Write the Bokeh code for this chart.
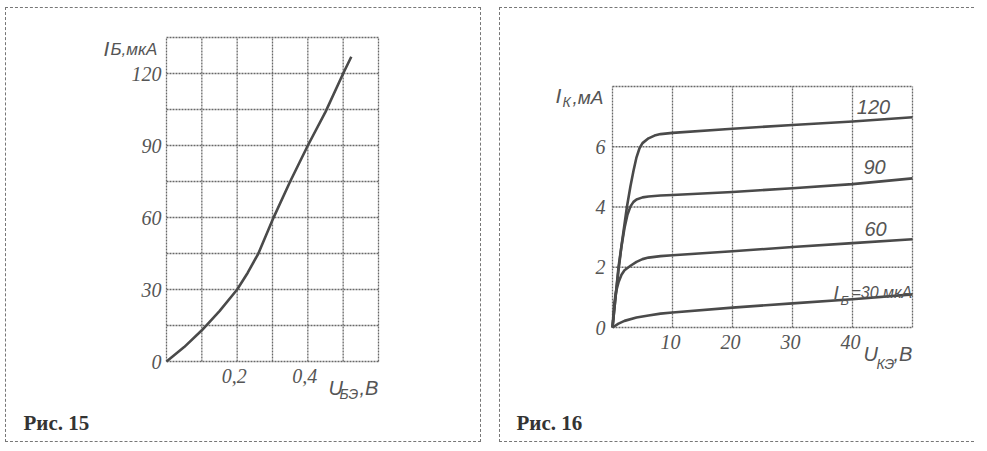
from bokeh.plotting import figure
from bokeh.models import Label, Range1d
from bokeh.layouts import row
from bokeh.embed import file_html
from bokeh.resources import INLINE

# ---------------- data: Рис. 15 (input characteristic) ----------------
u_be = [0.0, 0.05, 0.10, 0.15, 0.20, 0.23, 0.26, 0.30, 0.35, 0.40, 0.45, 0.50, 0.523]
i_b = [0, 6, 13, 21, 30, 37, 45, 59, 75, 90, 104, 120, 127]
fig15_xticks = [0.2, 0.4]
fig15_xlabels = ["0,2", "0,4"]
fig15_yticks = [0, 30, 60, 90, 120]
fig15_ylabels = ["0", "30", "60", "90", "120"]
fig15_xgrid = [0.0, 0.1, 0.2, 0.3, 0.4, 0.5, 0.6]
fig15_ygrid = [0, 15, 30, 45, 60, 75, 90, 105, 120, 135]

# ---------------- data: Рис. 16 (output characteristics) ----------------
u_ke_120 = [0, 1, 2.4, 3, 3.5, 4, 4.5, 5, 6, 7, 8, 10, 20, 30, 40, 50]
i_k_120 = [0, 2.0, 4.0, 4.7, 5.2, 5.65, 5.95, 6.12, 6.28, 6.37, 6.42, 6.46, 6.6, 6.72, 6.84, 6.98]
u_ke_90 = [0, 0.5, 1, 1.5, 2, 2.5, 3, 3.5, 4, 5, 6, 8, 10, 20, 30, 40, 50]
i_k_90 = [0, 1.0, 1.9, 2.7, 3.3, 3.75, 4.02, 4.17, 4.25, 4.32, 4.35, 4.38, 4.4, 4.5, 4.62, 4.76, 4.95]
u_ke_60 = [0, 0.3, 0.6, 1, 1.5, 2, 3, 4, 5, 6, 8, 10, 20, 30, 40, 50]
i_k_60 = [0, 0.8, 1.2, 1.5, 1.75, 1.9, 2.05, 2.18, 2.27, 2.32, 2.37, 2.4, 2.53, 2.67, 2.8, 2.93]
u_ke_30 = [0, 1, 2, 4, 6, 8, 10, 20, 30, 40, 50]
i_k_30 = [0, 0.13, 0.22, 0.33, 0.4, 0.46, 0.5, 0.66, 0.8, 0.94, 1.1]
fig16_xticks = [10, 20, 30, 40]
fig16_xlabels = ["10", "20", "30", "40"]
fig16_yticks = [0, 2, 4, 6]
fig16_ylabels = ["0", "2", "4", "6"]
fig16_xgrid = [0, 10, 20, 30, 40, 50]
fig16_ygrid = [0, 2, 4, 6, 8]

SANS = "Liberation Sans"
SERIF = "Liberation Serif"
TXT = "#555555"
LINE = "#4a4a4a"
GRID = "#686868"
BORDER = "1px dashed #777777"


class Panel:
    """A figure whose frame is the whole canvas; the plot box sits at given pixels."""

    def __init__(self, W, H, org, box, xr, yr):
        self.org = org
        l, r, t, b = box
        self.sx = (r - l) / (xr[1] - xr[0])
        self.sy = (b - t) / (yr[1] - yr[0])
        x0 = xr[0] - l / self.sx
        x1 = xr[1] + (W - r) / self.sx
        y0 = yr[0] - (H - b) / self.sy
        y1 = yr[1] + t / self.sy
        self.x0, self.y1 = x0, y1
        self.xr, self.yr = xr, yr
        self.p = figure(width=W, height=H, output_backend="svg", toolbar_location=None,
                        x_range=Range1d(x0, x1), y_range=Range1d(y0, y1),
                        x_axis_location=None, y_axis_location=None, min_border=0)
        p = self.p
        p.xgrid.visible = False
        p.ygrid.visible = False
        p.outline_line_color = None
        p.background_fill_color = "white"
        p.border_fill_color = "white"

    def at(self, px, py):
        # page pixel -> data coordinates
        cx, cy = px - self.org[0], py - self.org[1]
        return self.x0 + cx / self.sx, self.y1 - cy / self.sy

    def label(self, px, py, text, size, align="left", baseline="alphabetic",
              font=SANS, style="italic", color=TXT):
        x, y = self.at(px, py)
        self.p.add_layout(Label(x=x, y=y, text=text, text_font=font, text_font_style=style,
                                text_font_size=size, text_color=color, text_align=align,
                                text_baseline=baseline))

    def grid(self, xs, ys):
        n, m = len(xs), len(ys)
        self.p.segment(x0=xs, y0=[ys[0]] * n, x1=xs, y1=[ys[-1]] * n,
                       line_color=GRID, line_width=1.3, line_dash="2 1")
        self.p.segment(x0=[xs[0]] * m, y0=ys, x1=[xs[-1]] * m, y1=ys,
                       line_color=GRID, line_width=1.3, line_dash="2 1")

    def ticks(self, xt, xl, yt, yl, xoff, yoff):
        self.p.text(x=xt, y=[self.yr[0]] * len(xt), text=xl, x_offset=xoff[0], y_offset=xoff[1],
                    text_align="center", text_baseline="top", text_font_size="20px",
                    text_font_style="italic", text_color=TXT)
        self.p.text(x=[self.xr[0]] * len(yt), y=yt, text=yl, x_offset=yoff[0], y_offset=yoff[1],
                    text_align="right", text_baseline="middle", text_font_size="20px",
                    text_font_style="italic", text_color=TXT)
        for r in self.p.renderers[-2:]:
            r.glyph.text_font = SANS


# ---------------- Рис. 15 ----------------
A = Panel(476, 435, org=(6, 8), box=(160, 372, 29, 353), xr=(0, 0.6), yr=(0, 135))
A.grid(fig15_xgrid, fig15_ygrid)
A.ticks(fig15_xticks, fig15_xlabels, fig15_yticks, fig15_ylabels, (-3, 7), (-5, 0))
A.p.line(u_be, i_b, line_color=LINE, line_width=2.6, line_join="round")
A.label(103, 48, "I", "21px")
A.label(110, 49, "Б,мкА", "17px")
A.label(328, 387, "U", "20px")
A.label(339, 393, "БЭ", "14px")
A.label(359, 387, ",В", "20px")
A.label(23, 422, "Рис. 15", "21px", font=SERIF, style="bold", color="#333333")
A.p.styles = {"border": BORDER}
A.p.margin = (7, 0, 0, 5)

# ---------------- Рис. 16 ----------------
B = Panel(475, 435, org=(502, 8), box=(112, 412, 78, 319), xr=(0, 50), yr=(0, 8))
B.grid(fig16_xgrid, fig16_ygrid)
B.ticks(fig16_xticks, fig16_xlabels, fig16_yticks, fig16_ylabels, (-2, 7), (-7, 0))
for xs, ys in ((u_ke_120, i_k_120), (u_ke_90, i_k_90), (u_ke_60, i_k_60), (u_ke_30, i_k_30)):
    B.p.line(xs, ys, line_color=LINE, line_width=2.6, line_join="round")
B.label(557, 95, "I", "21px")
B.label(564, 101, "К", "14px")
B.label(574, 97, ",мА", "19px")
B.label(865, 353, "U", "20px")
B.label(878, 363, "КЭ", "14px")
B.label(895, 353, ",В", "20px")
B.label(875, 106, "120", "20px", align="center", baseline="middle")
B.label(876, 166, "90", "20px", align="center", baseline="middle")
B.label(877, 228, "60", "20px", align="center", baseline="middle")
B.label(835, 292, "I", "19px")
B.label(842, 300, "Б", "13px")
B.label(853, 292, "=30 мкА", "16px")
B.label(518, 422, "Рис. 16", "21px", font=SERIF, style="bold", color="#333333")
B.p.styles = {"border-left": BORDER, "border-top": BORDER, "border-bottom": BORDER}
B.p.margin = (7, 0, 0, 0)

layout = row(A.p, B.p, spacing=18)
open("out.html", "w").write(file_html(layout, INLINE))
